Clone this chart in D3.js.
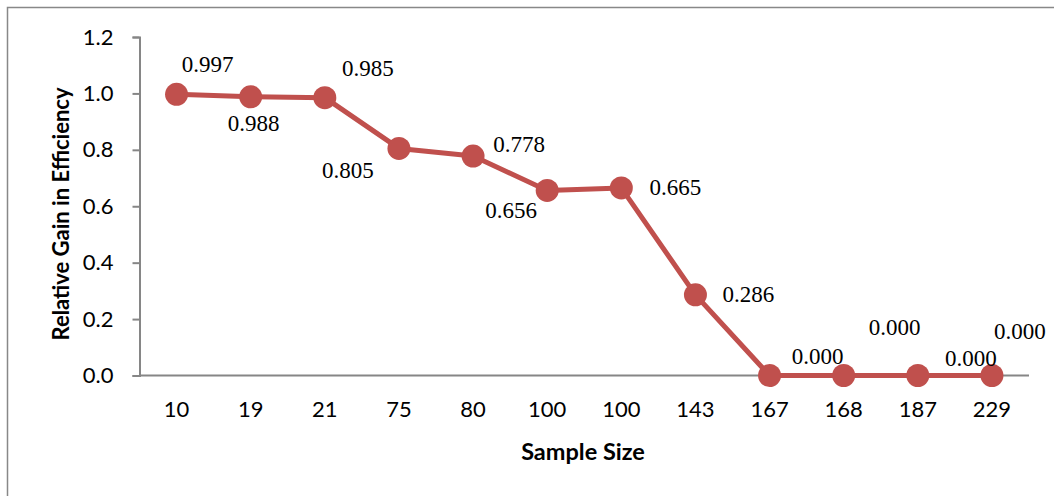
<!DOCTYPE html>
<html><head><meta charset="utf-8">
<script src="https://cdn.jsdelivr.net/npm/d3@7"></script>
<style>body{margin:0;background:#fff}svg{display:block}</style>
</head><body>
<svg id="c" width="1054" height="496"></svg>
<script>
const categories = ["10","19","21","75","80","100","100","143","167","168","187","229"];
const values = [0.997,0.988,0.985,0.805,0.778,0.656,0.665,0.286,0.000,0.000,0.000,0.000];
const yTicks = [0,0.2,0.4,0.6,0.8,1.0,1.2];
// label placement offsets (layout only)
const labelDx = [31,3,43,-51,46,-36,54,53,48,51,53,28];
const labelDy = [-30,27,-29,22,-12,20,0,0,-19,-48,-17,-44];

(function(){
const svg = d3.select("#c");
svg.append("rect").attr("x",7.5).attr("y",7.5).attr("width",1100).attr("height",600)
  .attr("fill","#fff").attr("stroke","#888").attr("stroke-width",1.5);

const pl=139.5, pr=1029, pt=37, pb=375.5;
const x = d3.scaleBand().domain(d3.range(categories.length)).range([pl,pr]);
const y = d3.scaleLinear().domain([0,1.2]).range([pb,pt]);

const yAxis = svg.append("g").attr("transform",`translate(${pl},0)`)
  .call(d3.axisLeft(y).tickValues(yTicks).tickFormat(d3.format(".1f")).tickSize(7).tickPadding(19));
const xAxis = svg.append("g").attr("transform",`translate(0,${pb})`)
  .call(d3.axisBottom(x).tickFormat(i=>categories[i]).tickSize(0).tickPadding(26));
[yAxis,xAxis].forEach(g=>{
  g.selectAll("path,line").attr("stroke","#868686").attr("stroke-width",2);
  g.selectAll("text").attr("fill","#000").style("font-family","Lato, 'Open Sans', sans-serif").style("font-size","22px");
});
xAxis.select(".domain").attr("d",`M${pl},0H${pr}`);

const cx = i => x(i)+x.bandwidth()/2;
const line = d3.line().x((d,i)=>cx(i)).y(d=>y(d));
svg.append("path").datum(values).attr("d",line).attr("fill","none")
  .attr("stroke","#C0504D").attr("stroke-width",5).attr("stroke-linejoin","round");
svg.selectAll("circle.pt").data(values).enter().append("circle")
  .attr("cx",(d,i)=>cx(i)).attr("cy",d=>y(d)).attr("r",11.5).attr("fill","#C0504D");

svg.selectAll("text.lbl").data(values).enter().append("text")
  .attr("x",(d,i)=>cx(i)+labelDx[i]).attr("y",(d,i)=>y(d)+labelDy[i])
  .attr("text-anchor","middle").attr("dominant-baseline","central")
  .style("font-family","'Liberation Serif','Times New Roman',serif").style("font-size","23px")
  .text(d=>d3.format(".3f")(d));

svg.append("text").attr("x",583).attr("y",451).attr("text-anchor","middle").attr("dominant-baseline","central")
  .style("font-family","Lato, 'Open Sans', sans-serif").style("font-weight","bold").style("font-size","23.5px")
  .text("Sample Size");
svg.append("text").attr("transform","translate(60,214) rotate(-90)").attr("text-anchor","middle").attr("dominant-baseline","central")
  .style("font-family","Lato, 'Open Sans', sans-serif").style("font-weight","bold").style("font-size","22px")
  .text("Relative Gain in Efficiency");
})();
</script>
</body></html>
